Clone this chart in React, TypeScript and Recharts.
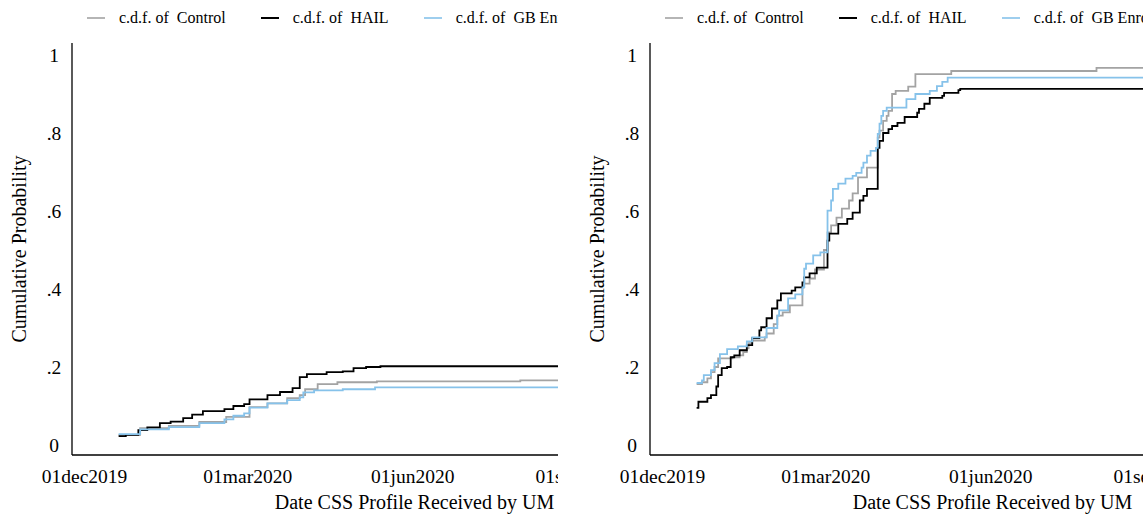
import React from 'react';
import { LineChart, Line, XAxis, YAxis, Legend, Label } from 'recharts';

const FONT = '"Liberation Serif", "Times New Roman", serif';
const MONTHS = ['jan', 'feb', 'mar', 'apr', 'may', 'jun', 'jul', 'aug', 'sep', 'oct', 'nov', 'dec'];

// axis setup
const xRange = ['2019-11-24', '2020-12-10'];
const xTickDates = ['2019-12-01', '2020-03-01', '2020-06-01', '2020-09-01', '2020-12-01'];
const yTicks = [0, 0.2, 0.4, 0.6, 0.8, 1];
const yRange = [-0.0256, 1.0308];

const seriesNames = ['c.d.f. of  Control', 'c.d.f. of  HAIL', 'c.d.f. of  GB Enrolled'];
const seriesColors = ['#a3a3a3', '#000000', '#86c2ea'];

// left panel
const leftControlDates = ['2019-12-20', '2020-01-01', '2020-01-17', '2020-02-03', '2020-02-18', '2020-03-02', '2020-03-12', '2020-03-23', '2020-03-30', '2020-04-02', '2020-04-09', '2020-04-20', '2020-05-12', '2020-07-31', '2020-12-10'];
const leftControlValues = [0.026, 0.043, 0.049, 0.059, 0.072, 0.097, 0.107, 0.12, 0.128, 0.143, 0.156, 0.161, 0.163, 0.166, 0.166];

const leftHailDates = ['2019-12-20', '2019-12-24', '2019-12-31', '2020-01-05', '2020-01-12', '2020-01-18', '2020-01-25', '2020-01-30', '2020-02-05', '2020-02-17', '2020-02-22', '2020-02-28', '2020-03-02', '2020-03-12', '2020-03-19', '2020-03-26', '2020-03-30', '2020-04-03', '2020-04-14', '2020-04-23', '2020-04-29', '2020-05-06', '2020-05-14', '2020-12-10'];
const leftHailValues = [0.023, 0.026, 0.038, 0.045, 0.056, 0.06, 0.069, 0.078, 0.087, 0.092, 0.1, 0.105, 0.117, 0.128, 0.136, 0.146, 0.174, 0.182, 0.187, 0.189, 0.197, 0.2, 0.202, 0.202];

const leftGbDates = ['2019-12-20', '2020-01-01', '2020-01-17', '2020-02-03', '2020-02-17', '2020-02-22', '2020-02-28', '2020-03-02', '2020-03-12', '2020-03-23', '2020-03-30', '2020-04-01', '2020-04-07', '2020-04-23', '2020-05-11', '2020-12-10'];
const leftGbValues = [0.028, 0.04, 0.046, 0.056, 0.066, 0.075, 0.081, 0.096, 0.107, 0.115, 0.122, 0.135, 0.14, 0.143, 0.148, 0.148];

// right panel
const rightControlDates = ['2019-12-20', '2019-12-23', '2019-12-26', '2019-12-28', '2019-12-30', '2020-01-01', '2020-01-09', '2020-01-13', '2020-01-15', '2020-01-17', '2020-01-18', '2020-01-20', '2020-01-27', '2020-01-28', '2020-02-01', '2020-02-03', '2020-02-06', '2020-02-10', '2020-02-17', '2020-02-18', '2020-02-21', '2020-02-24', '2020-02-29', '2020-03-02', '2020-03-04', '2020-03-07', '2020-03-10', '2020-03-14', '2020-03-16', '2020-03-19', '2020-03-24', '2020-03-30', '2020-03-31', '2020-04-02', '2020-04-04', '2020-04-05', '2020-04-07', '2020-04-09', '2020-04-16', '2020-04-20', '2020-05-10', '2020-07-30', '2020-12-10'];
const rightControlValues = [0.156, 0.161, 0.171, 0.187, 0.2, 0.222, 0.225, 0.23, 0.238, 0.248, 0.261, 0.268, 0.276, 0.286, 0.31, 0.332, 0.34, 0.358, 0.404, 0.414, 0.427, 0.45, 0.5, 0.545, 0.563, 0.583, 0.606, 0.627, 0.645, 0.686, 0.711, 0.788, 0.806, 0.831, 0.844, 0.857, 0.9, 0.908, 0.919, 0.951, 0.959, 0.967, 0.967];

const rightHailDates = ['2019-12-20', '2019-12-21', '2019-12-26', '2019-12-28', '2019-12-31', '2020-01-01', '2020-01-03', '2020-01-06', '2020-01-08', '2020-01-10', '2020-01-13', '2020-01-17', '2020-01-20', '2020-01-24', '2020-01-25', '2020-01-28', '2020-01-31', '2020-02-03', '2020-02-05', '2020-02-11', '2020-02-13', '2020-02-17', '2020-02-18', '2020-02-21', '2020-02-25', '2020-03-02', '2020-03-03', '2020-03-08', '2020-03-13', '2020-03-16', '2020-03-20', '2020-03-22', '2020-03-24', '2020-03-30', '2020-03-31', '2020-04-02', '2020-04-05', '2020-04-07', '2020-04-10', '2020-04-14', '2020-04-21', '2020-04-22', '2020-04-25', '2020-04-28', '2020-05-05', '2020-05-06', '2020-05-14', '2020-05-15', '2020-12-10'];
const rightHailValues = [0.095, 0.111, 0.12, 0.128, 0.15, 0.179, 0.197, 0.2, 0.225, 0.23, 0.243, 0.256, 0.274, 0.294, 0.302, 0.325, 0.35, 0.371, 0.389, 0.396, 0.404, 0.417, 0.43, 0.44, 0.455, 0.524, 0.542, 0.567, 0.58, 0.596, 0.627, 0.639, 0.657, 0.762, 0.78, 0.8, 0.81, 0.818, 0.826, 0.841, 0.852, 0.862, 0.875, 0.89, 0.895, 0.903, 0.91, 0.913, 0.913];

const rightGbDates = ['2019-12-20', '2019-12-23', '2019-12-24', '2019-12-28', '2019-12-30', '2020-01-02', '2020-01-06', '2020-01-12', '2020-01-17', '2020-01-20', '2020-01-28', '2020-02-03', '2020-02-04', '2020-02-09', '2020-02-13', '2020-02-17', '2020-02-18', '2020-02-19', '2020-02-23', '2020-02-27', '2020-03-02', '2020-03-04', '2020-03-05', '2020-03-08', '2020-03-12', '2020-03-16', '2020-03-18', '2020-03-21', '2020-03-22', '2020-03-24', '2020-03-26', '2020-03-29', '2020-03-30', '2020-03-31', '2020-04-01', '2020-04-02', '2020-04-04', '2020-04-15', '2020-04-20', '2020-04-28', '2020-05-02', '2020-05-05', '2020-05-08', '2020-12-10'];
const rightGbValues = [0.159, 0.166, 0.179, 0.192, 0.21, 0.233, 0.246, 0.253, 0.266, 0.276, 0.3, 0.332, 0.345, 0.376, 0.386, 0.404, 0.452, 0.465, 0.486, 0.494, 0.601, 0.627, 0.657, 0.67, 0.683, 0.69, 0.698, 0.711, 0.724, 0.742, 0.754, 0.762, 0.798, 0.824, 0.844, 0.857, 0.865, 0.887, 0.9, 0.908, 0.92, 0.931, 0.942, 0.942];

const toPoints = (dates: string[], values: number[]) =>
  dates.map((d, i) => ({ t: Date.parse(d), v: values[i] }));

const stataDate = (t: number) => {
  const d = new Date(t);
  return String(d.getUTCDate()).padStart(2, '0') + MONTHS[d.getUTCMonth()] + d.getUTCFullYear();
};

const yLabel = (v: number) => (v === 0 ? '0' : v === 1 ? '1' : String(v).replace(/^0/, ''));

const XTick = ({ x, y, payload }: any) => (
  <text x={x} y={y + 28} textAnchor="middle" fontFamily={FONT} fontSize={19.5} fill="#000">
    {stataDate(payload.value)}
  </text>
);

const YTick = ({ x, y, payload }: any) => (
  <text x={x - 18} y={y + 6.8} textAnchor="middle" fontFamily={FONT} fontSize={19.5} fill="#000">
    {yLabel(payload.value)}
  </text>
);

const renderLegend = () => (
  <div
    style={{
      display: 'flex',
      alignItems: 'center',
      paddingLeft: 87,
      fontFamily: FONT,
      fontSize: 16,
      lineHeight: '20px',
      color: '#000',
      whiteSpace: 'pre',
    }}
  >
    {seriesNames.map((name, i) => (
      <div key={name} style={{ display: 'flex', alignItems: 'center', marginRight: 35, flexShrink: 0 }}>
        <svg width={18} height={4}>
          <line x1={0} x2={18} y1={2} y2={2} stroke={seriesColors[i]} strokeWidth={i === 1 ? 2 : 1.6} />
        </svg>
        <span style={{ marginLeft: 14 }}>{name}</span>
      </div>
    ))}
  </div>
);

interface PanelProps {
  left: number;
  clipWidth: number;
  series: { t: number; v: number }[][];
}

const Panel = ({ left, clipWidth, series }: PanelProps) => (
  <div style={{ position: 'absolute', left, top: 0, width: clipWidth, height: 517, overflow: 'hidden' }}>
    <LineChart width={757} height={517} margin={{ top: 43, right: 0, bottom: 0, left: 0 }}>
      <XAxis
        dataKey="t"
        type="number"
        domain={xRange.map(d => Date.parse(d))}
        allowDataOverflow
        ticks={xTickDates.map(d => Date.parse(d))}
        interval={0}
        tickLine={false}
        tickSize={0}
        tickMargin={0}
        height={62}
        stroke="#000"
        strokeWidth={1.3}
        tick={<XTick />}
      >
        <Label
          content={({ viewBox }: any) => (
            <text
              x={viewBox.x + viewBox.width / 2}
              y={viewBox.y + 53.5}
              textAnchor="middle"
              fontFamily={FONT}
              fontSize={20}
              fill="#000"
            >
              Date CSS Profile Received by UM
            </text>
          )}
        />
      </XAxis>
      <YAxis
        type="number"
        domain={yRange}
        allowDataOverflow
        ticks={yTicks}
        interval={0}
        width={72}
        tickLine={false}
        tickSize={0}
        tickMargin={0}
        stroke="#000"
        strokeWidth={1.3}
        tick={<YTick />}
      >
        <Label
          content={({ viewBox }: any) => {
            const cx = viewBox.x + 18.5;
            const cy = viewBox.y + viewBox.height / 2;
            return (
              <text
                x={cx}
                y={cy}
                transform={`rotate(-90 ${cx} ${cy})`}
                textAnchor="middle"
                dominantBaseline="central"
                fontFamily={FONT}
                fontSize={20}
                fill="#000"
              >
                Cumulative Probability
              </text>
            );
          }}
        />
      </YAxis>
      <Legend
        layout="horizontal"
        align="center"
        verticalAlign="middle"
        wrapperStyle={{ top: 8, left: 0, width: 757 }}
        content={renderLegend}
      />
      {series.map((pts, i) => (
        <Line
          key={seriesNames[i]}
          data={pts}
          dataKey="v"
          name={seriesNames[i]}
          type="stepAfter"
          stroke={seriesColors[i]}
          strokeWidth={1.8}
          dot={false}
          activeDot={false}
          isAnimationActive={false}
        />
      ))}
    </LineChart>
  </div>
);

const App = () => {
  const leftSeries = [
    toPoints(leftControlDates, leftControlValues),
    toPoints(leftHailDates, leftHailValues),
    toPoints(leftGbDates, leftGbValues),
  ];
  const rightSeries = [
    toPoints(rightControlDates, rightControlValues),
    toPoints(rightHailDates, rightHailValues),
    toPoints(rightGbDates, rightGbValues),
  ];
  return (
    <div style={{ position: 'absolute', left: 0, top: 0, width: 1143, height: 517, background: '#fff', overflow: 'hidden' }}>
      <Panel left={0} clipWidth={558} series={leftSeries} />
      <Panel left={578} clipWidth={565} series={rightSeries} />
    </div>
  );
};

export default App;
